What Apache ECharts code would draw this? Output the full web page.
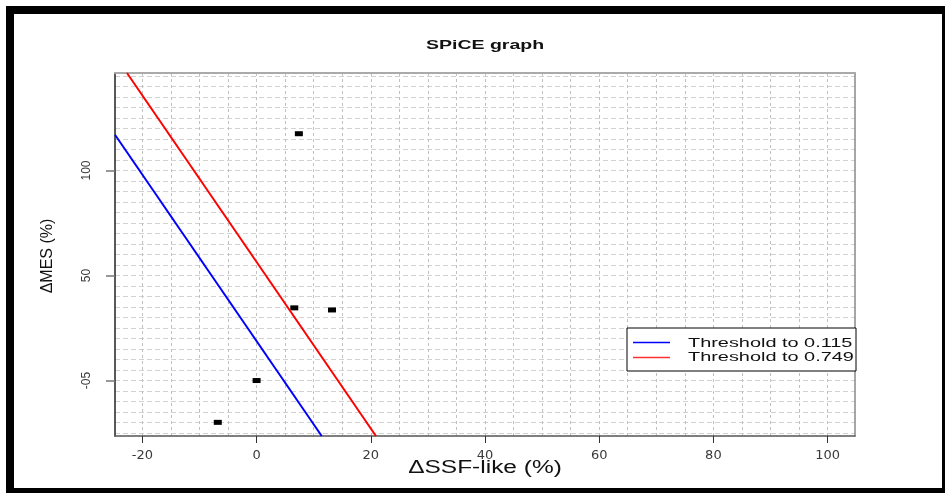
<!DOCTYPE html>
<html>
<head>
<meta charset="utf-8">
<script src="https://cdn.jsdelivr.net/npm/echarts@6/dist/echarts.min.js"></script>
<style>
  html, body { margin: 0; padding: 0; background: #fff; overflow: hidden; }
  #frame { position: absolute; left: 6px; top: 6px; width: 928px; height: 474px; border: 8px solid #000; }
  #chart { position: absolute; left: 0; top: 0; width: 945px; height: 493px; }
</style>
</head>
<body>
<div id="frame"></div>
<div id="chart"></div>
<script>
  // axis ticks / labels
  const xTicks = [-20, 0, 20, 40, 60, 80, 100];
  const yTicks = [0, 50, 100];
  const yTickLabels = ['-05', '50', '100'];

  // dashed background grid (every 5 units)
  const xGrid = [-20, -15, -10, -5, 0, 5, 10, 15, 20, 25, 30, 35, 40, 45, 50, 55, 60, 65, 70, 75, 80, 85, 90, 95, 100];
  const yGrid = [-25, -20, -15, -10, -5, 0, 5, 10, 15, 20, 25, 30, 35, 40, 45, 50, 55, 60, 65, 70, 75, 80, 85, 90, 95, 100, 105, 110, 115, 120, 125, 130, 135, 140, 145];

  // observed variants
  const ssfDelta = [7.4, 6.6, 13.2, 0, -6.8];
  const mesDelta = [117.5, 34.6, 33.6, 0, -19.9];

  // threshold lines (end points read at plot edges)
  const threshold115 = [[-24.8, 117], [11.4, -26.4]];
  const threshold749 = [[-22.7, 146.4], [20.9, -26.4]];

  const xRange = [-24.8, 104.8];
  const yRange = [-26.4, 146.4];

  const labelFont = { color: '#3a3a3a', fontFamily: 'Liberation Sans' };

  const chart = echarts.init(document.getElementById('chart'));
  chart.setOption({
    animation: false,
    grid: { left: 115, top: 73, width: 740, height: 363 },
    xAxis: [{
      type: 'value', min: xRange[0], max: xRange[1], position: 'bottom',
      axisLine: { show: true, onZero: false, lineStyle: { color: '#555', width: 1.5 } },
      axisTick: { show: true, length: 7, customValues: xTicks, lineStyle: { color: '#333' } },
      axisLabel: {
        customValues: xTicks, margin: 13, fontSize: 13,
        ...labelFont, fontFamily: 'DejaVu Sans'
      },
      splitLine: { show: false }
    }, {
      type: 'value', min: xRange[0], max: xRange[1], position: 'top',
      axisLine: { show: true, onZero: false, lineStyle: { color: '#aaa', width: 2 } },
      axisTick: { show: false, customValues: xGrid },
      axisLabel: { show: false },
      splitLine: { show: true, lineStyle: { color: '#c0c0c0', width: 1, type: [3, 3] } }
    }],
    yAxis: [{
      type: 'value', min: yRange[0], max: yRange[1], position: 'left',
      axisLine: { show: true, onZero: false, lineStyle: { color: '#222', width: 1.5 } },
      axisTick: { show: true, length: 9, customValues: yTicks, lineStyle: { color: '#777', width: 1.5 } },
      axisLabel: {
        customValues: yTicks, rotate: 90, margin: 22, fontSize: 12, ...labelFont,
        formatter: v => yTickLabels[yTicks.indexOf(v)]
      },
      splitLine: { show: false }
    }, {
      type: 'value', min: yRange[0], max: yRange[1], position: 'right',
      axisLine: { show: true, onZero: false, lineStyle: { color: '#888', width: 1.5 } },
      axisTick: { show: false, customValues: yGrid },
      axisLabel: { show: false },
      splitLine: { show: true, lineStyle: { color: '#d2d2d2', width: 1, type: [5, 3] } }
    }],
    series: [{
      name: 'Threshold to 0.115', type: 'line', data: threshold115,
      symbol: 'none', clip: true, lineStyle: { color: '#0000ff', width: 2 }
    }, {
      name: 'Threshold to 0.749', type: 'line', data: threshold749,
      symbol: 'none', clip: true, lineStyle: { color: '#ff0000', width: 2 }
    }, {
      type: 'scatter', symbol: 'rect', symbolSize: [8, 5],
      itemStyle: { color: '#000', opacity: 1 },
      data: ssfDelta.map((x, i) => [x, mesDelta[i]])
    }],
    graphic: [
      {
        type: 'text', x: 485, y: 45, scaleX: 1.5,
        style: { text: 'SPiCE graph', fontSize: 13, fontWeight: 'bold', fontFamily: 'Liberation Sans', fill: '#111', align: 'center', verticalAlign: 'middle' }
      },
      {
        type: 'text', x: 485, y: 468, scaleX: 1.36,
        style: { text: 'ΔSSF-like (%)', fontSize: 18, fontFamily: 'Liberation Sans', fill: '#111', align: 'center', verticalAlign: 'middle' }
      },
      {
        type: 'text', x: 48, y: 256, rotation: Math.PI / 2,
        style: { text: 'ΔMES (%)', fontSize: 16, fontFamily: 'Liberation Sans', fill: '#111', align: 'center', verticalAlign: 'middle' }
      },
      // legend box
      {
        type: 'rect', shape: { x: 627, y: 328, width: 229, height: 43 },
        style: { fill: '#fff', stroke: '#000', lineWidth: 1 }, z: 10
      },
      { type: 'line', shape: { x1: 633, y1: 342.5, x2: 670, y2: 342.5 }, style: { stroke: '#0000ff', lineWidth: 1.5 }, z: 11 },
      { type: 'line', shape: { x1: 633, y1: 357.5, x2: 670, y2: 357.5 }, style: { stroke: '#ff3030', lineWidth: 1.5 }, z: 11 },
      {
        type: 'text', x: 688, y: 343, scaleX: 1.53, z: 11,
        style: { text: 'Threshold to 0.115', fontSize: 13, fontFamily: 'Liberation Sans', fill: '#111', align: 'left', verticalAlign: 'middle' }
      },
      {
        type: 'text', x: 688, y: 357, scaleX: 1.53, z: 11,
        style: { text: 'Threshold to 0.749', fontSize: 13, fontFamily: 'Liberation Sans', fill: '#111', align: 'left', verticalAlign: 'middle' }
      }
    ]
  });
</script>
</body>
</html>
